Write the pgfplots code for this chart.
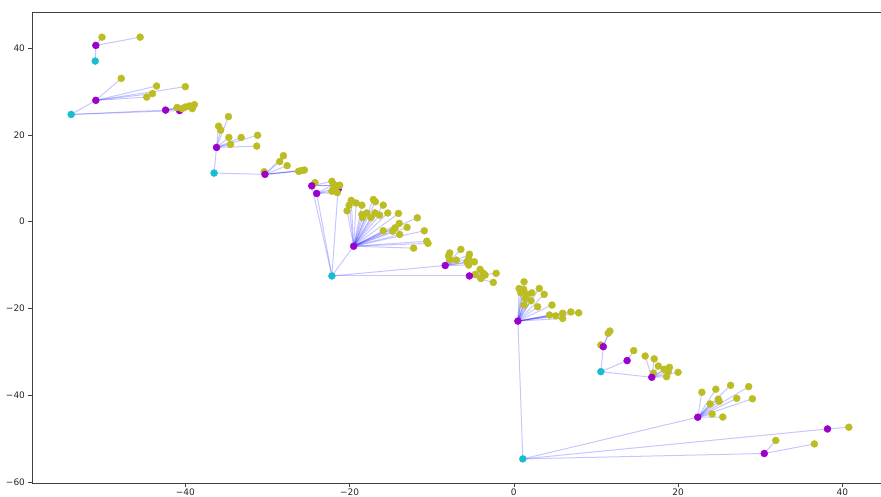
\documentclass[border=0pt]{standalone}
\usepackage{pgfplots}
\pgfplotsset{compat=1.18}
\usepackage{fontspec}
\setmainfont{DejaVu Sans}
\definecolor{cyanpt}{HTML}{17BECF}
\definecolor{magpt}{RGB}{155,0,205}
\definecolor{olivept}{HTML}{BCBD22}
\pgfplotsset{
  edge/.style={blue, opacity=0.22, line width=1pt, forget plot, mark=none},
  pts/.style={only marks, mark=*, mark size=3.5pt, color=#1, mark options={solid, draw=#1, fill=#1}, forget plot},
}
\newcommand\E[4]{\addplot[edge] coordinates {(#1,#2) (#3,#4)};}
\begin{document}
\begin{tikzpicture}
\useasboundingbox (-32pt,-13pt) rectangle (849pt,483pt);
\begin{axis}[
  at={(0,0)}, anchor=south west, scale only axis,
  width=852pt, height=471pt,
  xmin=-58.67, xmax=45.08, ymin=-60.2, ymax=48.3,
  xtick={-40,-20,0,20,40}, xticklabels={−40,−20,0,20,40},
  ytick={-60,-40,-20,0,20,40}, yticklabels={−60,−40,−20,0,20,40},
  tick align=outside, xtick pos=bottom, ytick pos=left,
  major tick length=3.5pt,
  tick style={black!75, line width=0.6pt},
  axis line style={black!75, line width=0.6pt},
  tick label style={font=\fontsize{9}{10}\selectfont, text=black!85},
  xticklabel style={yshift=1.5pt},
]
% hidden magenta (under yellow)
\addplot[pts=magpt] coordinates {(-40.7,25.6) (-21.4,7.4)};
% yellow leaves
\addplot[pts=olivept] coordinates {
(-50.15,42.5) (-45.5,42.5)
(-47.8,33.0) (-43.5,31.25) (-40.0,31.1) (-44.0,29.5) (-44.7,28.7)
(-41.0,26.3) (-40.4,26.05) (-40.0,26.4) (-39.5,26.65) (-38.9,26.95) (-39.15,26.05)
(-34.75,24.2) (-35.95,22.0) (-35.7,21.1) (-34.7,19.4) (-33.2,19.4) (-31.2,19.9) (-34.5,17.8) (-31.3,17.4)
(-30.4,11.5) (-28.05,15.2) (-28.5,13.85) (-27.6,12.9) (-26.2,11.6) (-25.8,11.8) (-25.5,11.9)
(-24.2,9.0) (-22.15,9.3) (-21.95,8.6) (-21.5,8.25) (-21.2,8.4) (-21.75,7.8) (-22.15,7.0) (-21.5,6.7) (-21.95,7.6)
(-19.8,4.9) (-20.05,3.8) (-20.3,2.5) (-19.2,4.3) (-18.5,3.8) (-17.1,5.1) (-16.85,4.6) (-15.9,3.8) (-18.5,1.65)
(-18.4,0.95) (-17.9,2.0) (-17.4,0.95) (-16.9,2.0) (-16.35,1.5) (-15.35,2.0) (-14.05,1.9) (-11.75,0.9) (-13.95,-0.4)
(-13.0,-1.3) (-14.45,-1.4) (-14.75,-2.2) (-15.9,-2.1) (-13.9,-2.95) (-10.9,-2.1) (-10.6,-4.5) (-10.45,-5.0) (-12.2,-6.1)
(-7.8,-7.2) (-7.95,-7.9) (-7.8,-8.7) (-6.45,-6.4) (-5.4,-7.5) (-5.5,-8.5) (-5.7,-9.25) (-5.5,-10.0) (-4.8,-9.25) (-7.0,-8.85)
(-4.7,-12.15) (-4.1,-11.0) (-3.7,-11.9) (-3.5,-12.3) (-4.0,-13.1) (-2.15,-11.9) (-2.5,-14.0)
(1.25,-13.85) (0.65,-15.4) (0.85,-16.4) (1.2,-15.6) (1.6,-16.7) (2.2,-16.4) (3.1,-15.4) (3.7,-16.75) (2.1,-18.2) (1.4,-17.7)
(1.25,-19.2) (2.9,-19.6) (4.65,-19.2) (4.35,-21.5) (5.1,-21.7) (5.95,-21.1) (6.95,-20.8) (7.9,-21.0) (5.95,-22.3)
(11.7,-25.2) (11.5,-25.7) (10.6,-28.4)
(14.6,-29.7)
(16.0,-30.95) (17.1,-31.6) (17.6,-33.25) (18.3,-34.0) (18.95,-33.55) (18.8,-34.55) (18.6,-35.7) (20.0,-34.7) (17.0,-34.9)
(22.9,-39.3) (24.6,-38.6) (26.4,-37.7) (28.6,-38.0) (29.05,-40.8) (27.15,-40.7) (24.9,-40.9) (23.9,-42.0) (25.0,-41.4) (24.15,-44.3) (25.45,-45.0)
(40.8,-47.35)
(31.9,-50.4) (36.6,-51.2)
};
% magenta mid-level
\addplot[pts=magpt] coordinates {
(-50.9,40.6) (-50.9,27.95) (-42.4,25.7) (-36.2,17.1) (-30.3,10.9) (-24.6,8.25) (-24.0,6.5)
(-19.5,-5.65) (-8.35,-10.1) (-5.4,-12.5) (0.5,-22.9) (10.9,-28.8) (13.8,-32.0) (16.8,-35.85)
(22.4,-45.05) (38.2,-47.75) (30.5,-53.4)
};
% cyan roots
\addplot[pts=cyanpt] coordinates {
(-50.97,37.0) (-53.9,24.7) (-36.5,11.2) (-22.15,-12.5) (10.6,-34.55) (1.1,-54.65)
};
% ---- edges: root -> mid
\E{-50.97}{37.0}{-50.9}{40.6}
\E{-53.9}{24.7}{-50.9}{27.95}
\E{-53.9}{24.7}{-42.4}{25.7}
\E{-53.9}{24.7}{-40.7}{25.6}
\E{-36.5}{11.2}{-36.2}{17.1}
\E{-36.5}{11.2}{-30.3}{10.9}
\E{-22.15}{-12.5}{-24.6}{8.25}
\E{-22.15}{-12.5}{-24.0}{6.5}
\E{-22.15}{-12.5}{-21.4}{7.4}
\E{-22.15}{-12.5}{-19.5}{-5.65}
\E{-22.15}{-12.5}{-8.35}{-10.1}
\E{-22.15}{-12.5}{-5.4}{-12.5}
\E{10.6}{-34.55}{10.9}{-28.8}
\E{10.6}{-34.55}{13.8}{-32.0}
\E{10.6}{-34.55}{16.8}{-35.85}
\E{1.1}{-54.65}{0.5}{-22.9}
\E{1.1}{-54.65}{22.4}{-45.05}
\E{1.1}{-54.65}{38.2}{-47.75}
\E{1.1}{-54.65}{30.5}{-53.4}
% ---- edges: mid -> leaf
\E{-50.9}{40.6}{-50.15}{42.5}
\E{-50.9}{40.6}{-45.5}{42.5}
\E{-50.9}{27.95}{-47.8}{33.0}
\E{-50.9}{27.95}{-43.5}{31.25}
\E{-50.9}{27.95}{-40.0}{31.1}
\E{-50.9}{27.95}{-44.0}{29.5}
\E{-50.9}{27.95}{-44.7}{28.7}
\E{-42.4}{25.7}{-41.0}{26.3}
\E{-42.4}{25.7}{-40.4}{26.05}
\E{-42.4}{25.7}{-40.0}{26.4}
\E{-40.7}{25.6}{-39.5}{26.65}
\E{-40.7}{25.6}{-38.9}{26.95}
\E{-40.7}{25.6}{-39.15}{26.05}
\E{-36.2}{17.1}{-34.75}{24.2}
\E{-36.2}{17.1}{-35.95}{22.0}
\E{-36.2}{17.1}{-35.7}{21.1}
\E{-36.2}{17.1}{-34.7}{19.4}
\E{-36.2}{17.1}{-33.2}{19.4}
\E{-36.2}{17.1}{-31.2}{19.9}
\E{-36.2}{17.1}{-34.5}{17.8}
\E{-36.2}{17.1}{-31.3}{17.4}
\E{-30.3}{10.9}{-30.4}{11.5}
\E{-30.3}{10.9}{-28.05}{15.2}
\E{-30.3}{10.9}{-28.5}{13.85}
\E{-30.3}{10.9}{-27.6}{12.9}
\E{-30.3}{10.9}{-26.2}{11.6}
\E{-30.3}{10.9}{-25.8}{11.8}
\E{-30.3}{10.9}{-25.5}{11.9}
\E{-24.6}{8.25}{-24.2}{9.0}
\E{-24.6}{8.25}{-22.15}{9.3}
\E{-24.6}{8.25}{-21.5}{8.25}
\E{-24.6}{8.25}{-21.2}{8.4}
\E{-24.0}{6.5}{-22.15}{7.0}
\E{-24.0}{6.5}{-21.5}{6.7}
\E{-24.0}{6.5}{-21.95}{7.6}
\E{-24.0}{6.5}{-21.95}{8.6}
\E{-21.4}{7.4}{-21.75}{7.8}
\E{-19.5}{-5.65}{-19.8}{4.9}
\E{-19.5}{-5.65}{-20.05}{3.8}
\E{-19.5}{-5.65}{-20.3}{2.5}
\E{-19.5}{-5.65}{-19.2}{4.3}
\E{-19.5}{-5.65}{-18.5}{3.8}
\E{-19.5}{-5.65}{-17.1}{5.1}
\E{-19.5}{-5.65}{-16.85}{4.6}
\E{-19.5}{-5.65}{-15.9}{3.8}
\E{-19.5}{-5.65}{-18.5}{1.65}
\E{-19.5}{-5.65}{-18.4}{0.95}
\E{-19.5}{-5.65}{-17.9}{2.0}
\E{-19.5}{-5.65}{-17.4}{0.95}
\E{-19.5}{-5.65}{-16.9}{2.0}
\E{-19.5}{-5.65}{-16.35}{1.5}
\E{-19.5}{-5.65}{-15.35}{2.0}
\E{-19.5}{-5.65}{-14.05}{1.9}
\E{-19.5}{-5.65}{-11.75}{0.9}
\E{-19.5}{-5.65}{-13.95}{-0.4}
\E{-19.5}{-5.65}{-13.0}{-1.3}
\E{-19.5}{-5.65}{-14.45}{-1.4}
\E{-19.5}{-5.65}{-14.75}{-2.2}
\E{-19.5}{-5.65}{-15.9}{-2.1}
\E{-19.5}{-5.65}{-13.9}{-2.95}
\E{-19.5}{-5.65}{-10.9}{-2.1}
\E{-19.5}{-5.65}{-10.6}{-4.5}
\E{-19.5}{-5.65}{-10.45}{-5.0}
\E{-19.5}{-5.65}{-12.2}{-6.1}
\E{-8.35}{-10.1}{-7.8}{-7.2}
\E{-8.35}{-10.1}{-7.95}{-7.9}
\E{-8.35}{-10.1}{-7.8}{-8.7}
\E{-8.35}{-10.1}{-6.45}{-6.4}
\E{-8.35}{-10.1}{-5.4}{-7.5}
\E{-8.35}{-10.1}{-5.5}{-8.5}
\E{-8.35}{-10.1}{-5.7}{-9.25}
\E{-8.35}{-10.1}{-5.5}{-10.0}
\E{-8.35}{-10.1}{-4.8}{-9.25}
\E{-8.35}{-10.1}{-7.0}{-8.85}
\E{-5.4}{-12.5}{-4.7}{-12.15}
\E{-5.4}{-12.5}{-4.1}{-11.0}
\E{-5.4}{-12.5}{-3.7}{-11.9}
\E{-5.4}{-12.5}{-3.5}{-12.3}
\E{-5.4}{-12.5}{-4.0}{-13.1}
\E{-5.4}{-12.5}{-2.15}{-11.9}
\E{-5.4}{-12.5}{-2.5}{-14.0}
\E{0.5}{-22.9}{1.25}{-13.85}
\E{0.5}{-22.9}{0.65}{-15.4}
\E{0.5}{-22.9}{0.85}{-16.4}
\E{0.5}{-22.9}{1.2}{-15.6}
\E{0.5}{-22.9}{1.6}{-16.7}
\E{0.5}{-22.9}{2.2}{-16.4}
\E{0.5}{-22.9}{3.1}{-15.4}
\E{0.5}{-22.9}{3.7}{-16.75}
\E{0.5}{-22.9}{2.1}{-18.2}
\E{0.5}{-22.9}{1.4}{-17.7}
\E{0.5}{-22.9}{1.25}{-19.2}
\E{0.5}{-22.9}{2.9}{-19.6}
\E{0.5}{-22.9}{4.65}{-19.2}
\E{0.5}{-22.9}{4.35}{-21.5}
\E{0.5}{-22.9}{5.1}{-21.7}
\E{0.5}{-22.9}{5.95}{-21.1}
\E{0.5}{-22.9}{6.95}{-20.8}
\E{0.5}{-22.9}{7.9}{-21.0}
\E{0.5}{-22.9}{5.95}{-22.3}
\E{10.9}{-28.8}{11.7}{-25.2}
\E{10.9}{-28.8}{11.5}{-25.7}
\E{10.9}{-28.8}{10.6}{-28.4}
\E{13.8}{-32.0}{14.6}{-29.7}
\E{16.8}{-35.85}{16.0}{-30.95}
\E{16.8}{-35.85}{17.1}{-31.6}
\E{16.8}{-35.85}{17.6}{-33.25}
\E{16.8}{-35.85}{18.3}{-34.0}
\E{16.8}{-35.85}{18.95}{-33.55}
\E{16.8}{-35.85}{18.8}{-34.55}
\E{16.8}{-35.85}{18.6}{-35.7}
\E{16.8}{-35.85}{20.0}{-34.7}
\E{16.8}{-35.85}{17.0}{-34.9}
\E{22.4}{-45.05}{22.9}{-39.3}
\E{22.4}{-45.05}{24.6}{-38.6}
\E{22.4}{-45.05}{26.4}{-37.7}
\E{22.4}{-45.05}{28.6}{-38.0}
\E{22.4}{-45.05}{29.05}{-40.8}
\E{22.4}{-45.05}{27.15}{-40.7}
\E{22.4}{-45.05}{24.9}{-40.9}
\E{22.4}{-45.05}{23.9}{-42.0}
\E{22.4}{-45.05}{25.0}{-41.4}
\E{22.4}{-45.05}{24.15}{-44.3}
\E{22.4}{-45.05}{25.45}{-45.0}
\E{38.2}{-47.75}{40.8}{-47.35}
\E{30.5}{-53.4}{31.9}{-50.4}
\E{30.5}{-53.4}{36.6}{-51.2}
\end{axis}
\end{tikzpicture}
\end{document}
